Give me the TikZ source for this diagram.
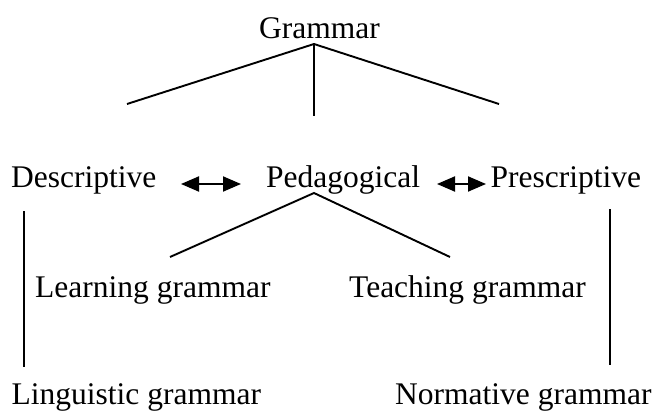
\documentclass[tikz,border=0pt]{standalone}
\usepackage{fontspec}
\setmainfont{Liberation Serif}
\usetikzlibrary{arrows.meta}
\begin{document}
\begin{tikzpicture}[x=1pt,y=-1pt,
  lbl/.style={anchor=base west,inner sep=0pt,font=\fontsize{31.5}{36}\selectfont},
  conn/.style={line width=1.9pt},
  dbl/.style={line width=1.9pt,{Triangle[length=18pt,width=15pt]}-{Triangle[length=18pt,width=15pt]}}]
\useasboundingbox (0,0) rectangle (657,412);
% nodes
\node[lbl] (gram) at (259,39) {Grammar};
\node[lbl] (desc) at (11,187) {Descriptive};
\node[lbl] (peda) at (266,187) {Pedagogical};
\node[lbl] (pres) at (490.5,187) {Prescriptive};
\node[lbl] (learn) at (35,297) {Learning grammar};
\node[lbl] (teach) at (349,297) {Teaching grammar};
\node[lbl] (ling) at (11.5,404.5) {Linguistic grammar};
\node[lbl] (norm) at (395,404.5) {Normative grammar};
% coordinates
\coordinate (gtop) at (314,44);
\coordinate (gl) at (127,104);
\coordinate (gm) at (314,116);
\coordinate (gr) at (499,104);
\coordinate (ptop) at (314,193);
\coordinate (pl) at (170,257);
\coordinate (pr) at (450,257);
\coordinate (a1l) at (181,184);
\coordinate (a1r) at (241,184);
\coordinate (a2l) at (437,184);
\coordinate (a2r) at (486,184);
\coordinate (vlt) at (24,211);
\coordinate (vlb) at (24,367);
\coordinate (vrt) at (610,209);
\coordinate (vrb) at (610,365);
% connectors
\draw[conn] (gl) -- (gtop) -- (gr);
\draw[conn] (gtop) -- (gm);
\draw[conn] (pl) -- (ptop) -- (pr);
\draw[dbl] (a1l) -- (a1r);
\draw[dbl] (a2l) -- (a2r);
\draw[conn] (vlt) -- (vlb);
\draw[conn] (vrt) -- (vrb);
\end{tikzpicture}
\end{document}
